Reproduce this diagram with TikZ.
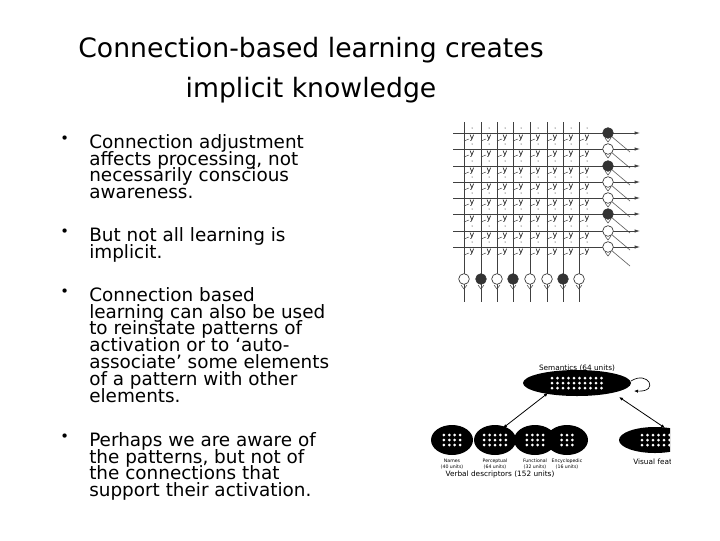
\documentclass[tikz,border=0pt]{standalone}
\usepackage{fontspec}
\setmainfont{DejaVu Sans}
\usetikzlibrary{arrows.meta}
\lineskiplimit=-20pt
\begin{document}
\begin{tikzpicture}[x=0.75pt,y=-0.75pt,
  ttl/.style={font=\fontsize{20}{30}\selectfont,align=center},
  bul/.style={font=\fontsize{13.8}{12.6}\selectfont,align=left,anchor=north west,inner sep=0},
  dotm/.style={font=\fontsize{11}{12}\selectfont,anchor=north west,inner sep=0},
  gl/.style={draw=black!75,line width=0.5pt},
  blob/.style={fill=black},
  tiny/.style={font=\fontsize{3.5}{4}\selectfont,align=center,inner sep=0},
  sm/.style={font=\fontsize{5.5}{6}\selectfont,inner sep=0}]
\useasboundingbox (0,0) rectangle (720,540);
\node[ttl] (t) at (311,70) {Connection-based learning creates\\implicit knowledge};
\node[dotm] (b1) at (60,136) {•};
\node[bul] (x1) at (89,134) {Connection adjustment\\affects processing, not\\necessarily conscious\\awareness.};
\node[dotm] (b2) at (60,229) {•};
\node[bul] (x2) at (89,227) {But not all learning is\\implicit.};
\node[dotm] (b3) at (60,289) {•};
\node[bul] (x3) at (89,287) {Connection based\\learning can also be used\\to reinstate patterns of\\activation or to ‘auto-\\associate’ some elements\\of a pattern with other\\elements.};
\node[dotm] (b4) at (60,434) {•};
\node[bul] (x4) at (89,432) {Perhaps we are aware of\\the patterns, but not of\\the connections that\\support their activation.};
% grid network
\foreach \y [count=\i] in {133,149,166,182,198,214,231,247}{
  \coordinate (hl\i) at (453,\y);
  \coordinate (hr\i) at (640,\y);
  \draw[gl,-{Latex[length=4pt,width=2.5pt]}] (hl\i) -- (hr\i);
  \draw[gl,black!60] (611,\y+3) -- (630,\y+19);
}
\foreach \x [count=\j] in {464,481,497,513,530,547,563,579}{
  \coordinate (vt\j) at (\x,122);
  \coordinate (vb\j) at (\x,302);
  \draw[gl] (vt\j) -- (vb\j);
  \foreach \y in {133,149,166,182,198,214,231,247}{
    \node[font=\fontsize{6}{6}\selectfont,inner sep=0] at (\x+8,\y+5) {y};
    \draw[black!70,line width=0.4pt] (\x,\y+8) to[out=0,in=180] (\x+5,\y+6);
    \fill (\x+8,\y-5) circle (0.5);
  }
}
\foreach \x [count=\j] in {464,481,497,513,530,547,563,579}{
  \ifnum\j=2 \def\fc{black!80}\else\ifnum\j=4 \def\fc{black!80}\else\ifnum\j=7 \def\fc{black!80}\else\def\fc{white}\fi\fi\fi
  \node[circle,draw=black!80,fill=\fc,minimum size=8pt,inner sep=0,line width=0.5pt] (bc\j) at (\x,279) {};
  \draw[black!70,line width=0.4pt] (\x-3,285) -- (\x,289) -- (\x+3,285);
}
\foreach \y [count=\i] in {133,149,166,182,198,214,231,247}{
  \ifnum\i=1 \def\fc{black!80}\else\ifnum\i=3 \def\fc{black!80}\else\ifnum\i=6 \def\fc{black!80}\else\def\fc{white}\fi\fi\fi
  \node[circle,draw=black!80,fill=\fc,minimum size=8pt,inner sep=0,line width=0.5pt] (rc\i) at (608,\y) {};
  \draw[black!70,line width=0.4pt] (605,\y+5) -- (608,\y+9) -- (611,\y+5);
}
% semantics network
\begin{scope}
\clip (415,340) rectangle (670,485);
\node[sm] (semlab) at (577,368) {Semantics (64 units)};
\fill[blob] (577,383) ellipse (54 and 13);
\coordinate (sem) at (577,383);
\foreach \c in {0,...,9}{\foreach \r in {0,1,2}{\fill[white] (552+\c*5.5,378+\r*5) circle (1.5);}}
\draw[-{Latex[length=3pt,width=2.5pt]},line width=0.5pt] (631,381) .. controls (648,370) and (660,392) .. (634,391);
\foreach \cx/\n/\lab/\u in {452/4/Names/(40 units),495/5/Perceptual/(64 units),535/4/Functional/(32 units),567/3/Encyclopedic/(16 units)}{
  \fill[blob] (\cx,440) ellipse (21 and 15);
  \foreach \c in {1,...,\n}{\foreach \r in {0,1,2}{\fill[white] (\cx-\n*2.7-2.7+\c*5.4,435+\r*5) circle (1.5);}}
  \node[tiny] at (\cx,464) {\lab\\\u};
}
\node[sm] (verb) at (500,474) {Verbal descriptors (152 units)};
\fill[blob] (655,440) ellipse (36 and 13);
\foreach \c in {0,...,5}{\foreach \r in {0,1,2}{\fill[white] (642+\c*5.5,435+\r*5) circle (1.5);}}
\node[sm,anchor=west] (vis) at (633,462) {Visual features};
\coordinate (ve) at (503,428);
\coordinate (vs) at (548,393);
\coordinate (we) at (665,428);
\coordinate (ws) at (619,397);
\draw[{Latex[length=3pt,width=2.5pt]}-{Latex[length=3pt,width=2.5pt]},line width=0.6pt] (vs) -- (ve);
\draw[{Latex[length=3pt,width=2.5pt]}-{Latex[length=3pt,width=2.5pt]},line width=0.6pt] (ws) -- (we);
\end{scope}
\end{tikzpicture}
\end{document}
